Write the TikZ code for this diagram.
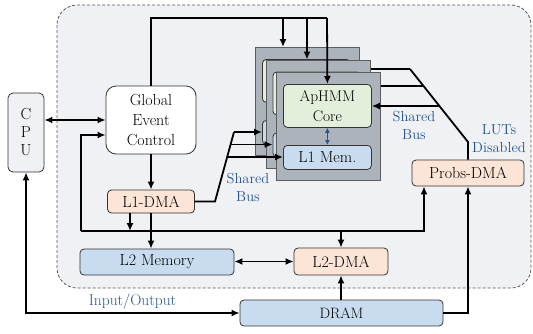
\documentclass[tikz,border=0pt]{standalone}
\usetikzlibrary{arrows.meta,calc}
\definecolor{bgfill}{HTML}{EFF1F4}
\definecolor{peach}{HTML}{FCE4D6}
\definecolor{lblue}{HTML}{C9DCEF}
\definecolor{lgreen}{HTML}{E3EFDA}
\definecolor{cardgray}{HTML}{ACB3BB}
\definecolor{labblue}{HTML}{255594}
\definecolor{edge}{HTML}{333333}
\begin{document}
\begin{tikzpicture}[x=1pt,y=-1pt,
  box/.style={draw=edge, line width=0.8pt, rounded corners=4pt, inner sep=0pt,
    font=\fontsize{16}{20}\selectfont, text=black, align=center},
  cardbox/.style={draw=edge!80, line width=0.8pt, fill=cardgray, inner sep=0pt, anchor=north west,
    minimum width=104pt, minimum height=108pt},
  corebox/.style={box, fill=lgreen, anchor=north west, minimum width=88pt, minimum height=43pt,
    font=\fontsize{15.5}{20}\selectfont},
  membox/.style={box, fill=lblue, anchor=north west, minimum width=88pt, minimum height=24pt},
  conn/.style={line width=1.8pt, black},
  arr/.style={conn, -{Latex[length=8pt,width=7pt]}},
  darr/.style={conn, {Latex[length=8pt,width=7pt]}-{Latex[length=8pt,width=7pt]}},
  barr/.style={line width=1.2pt, labblue, {Latex[length=5pt,width=5pt]}-{Latex[length=5pt,width=5pt]}},
  lab/.style={text=labblue, font=\fontsize{14.5}{18}\selectfont, align=center, inner sep=0pt},
]
\useasboundingbox (0,0) rectangle (533,333);
% background region
\draw[draw=black!65, dash pattern=on 3pt off 2pt, line width=0.8pt, fill=bgfill, rounded corners=20pt]
  (57,5) rectangle (531,288);

% main nodes
\node[box, fill=bgfill, rounded corners=5pt, minimum width=36pt, minimum height=79pt,
      font=\fontsize{16}{18}\selectfont] (CPU) at (26,132.5) {C\\P\\U};
\node[box, fill=white, rounded corners=10pt, minimum width=90pt, minimum height=68pt] (GEC) at (151,120) {Global\\Event\\Control};
\node[box, fill=peach, minimum width=87pt, minimum height=23pt] (L1DMA) at (151,201.5) {L1-DMA};
\node[box, fill=lblue, minimum width=154pt, minimum height=26pt] (L2Mem) at (157,262) {L2 Memory};
\node[box, fill=peach, minimum width=94pt, minimum height=27pt] (L2DMA) at (341,261.5) {L2-DMA};
\node[box, fill=lblue, minimum width=203pt, minimum height=26pt, font=\fontsize{15}{18}\selectfont] (DRAM) at (341.5,313) {DRAM};
\node[box, fill=peach, minimum width=112pt, minimum height=26pt] (Probs) at (468,173) {Probs-DMA};

% labels
\node[lab] (lsl) at (248,187) {Shared\\Bus};
\node[lab] (lsr) at (414,125) {Shared\\Bus};
\node[lab] (luts) at (499,138.5) {LUTs\\Disabled};
\node[lab, font=\fontsize{15.5}{18}\selectfont] (io) at (132.5,302) {Input/Output};

% coordinates
\coordinate (b1) at (81,231);
\coordinate (b2) at (424,231);
\coordinate (t1) at (151,18);
\coordinate (t3) at (327,18);
\coordinate (lk) at (215,201.5);
\coordinate (lt) at (234,132);
\coordinate (l2) at (230.6,144.5);
\coordinate (l3) at (227.2,157);
\coordinate (rk) at (468,142);
\coordinate (rt) at (410,69);
\coordinate (r2) at (423.5,86);
\coordinate (r3) at (439,106);

% connectors
\draw[darr] (CPU.east |- GEC.west) -- (GEC.west);
\draw[darr] (CPU.south) |- (DRAM.west);
\draw[arr] (GEC.south) -- (L1DMA.north);
\draw[arr] (b1) |- ([yshift=-15pt]GEC.west);
\draw[arr] (b1) -- (b2) -- (b2 |- Probs.south);
\draw[arr] ([xshift=-21pt]L1DMA.south) -- ([xshift=-21pt]L1DMA.south |- b1);
\draw[arr] (b1 -| L2DMA.north) -- (L2DMA.north);
\draw[arr] (L1DMA.south) -- (L1DMA.south |- L2Mem.north);
\draw[darr] (L2Mem.east |- L2DMA.west) -- (L2DMA.west);
\draw[arr] (DRAM.north -| L2DMA.south) -- (L2DMA.south);
\draw[arr] (DRAM.east) -| (Probs.south);
\draw[conn] (GEC.north) -- (t1) -- (t3);
\draw[conn] (L1DMA.east) -- (lk) -- (lt);
\draw[conn] (Probs.north) -- (rk) -- (rt);

% card A (back; its boxes are hidden behind the cards in front)
\node[cardbox] (cardA) at (255,47) {};
\node[corebox] (coreA) at (262,59) {};
\node[membox] (memA) at (262,120) {};
\draw[arr] (t1 -| 283,0) -- (283,47);
\draw[arr] (lt) -- (memA.west |- lt);
\draw[arr] (rt) -- (coreA.east |- rt);

% card B
\node[cardbox] (cardB) at (265.5,59.5) {};
\node[corebox] (coreB) at (272.5,71.5) {};
\node[membox] (memB) at (272.5,132.5) {};
\draw[arr] (t1 -| 307,0) -- (cardB.north -| 307,0);
\draw[arr] (l2) -- (memB.west |- l2);
\draw[arr] (r2) -- (coreB.east |- r2);

% card C (front)
\node[cardbox] (cardC) at (276,72) {};
\node[corebox] (coreC) at (283,84) {ApHMM\\Core};
\node[membox] (memC) at (283,145) {L1 Mem.};
\draw[barr] (coreC) -- (memC);
\draw[arr] (t3) -- (coreC.north);
\draw[arr] (l3) -- (memC.west |- l3);
\draw[arr] (r3) -- (coreC.east |- r3);
\end{tikzpicture}
\end{document}
